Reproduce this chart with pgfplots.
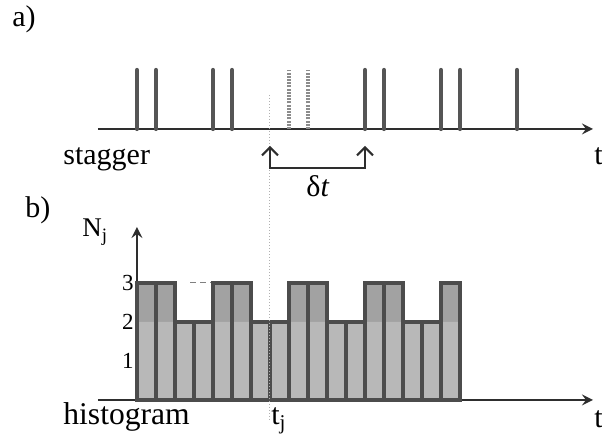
\documentclass[border=0pt]{standalone}
\usepackage{fontspec}
\setmainfont{Liberation Serif}
\usepackage{pgfplots}
\pgfplotsset{compat=1.18}
\usetikzlibrary{arrows.meta}

\definecolor{inkdark}{HTML}{2E2E2E}
\definecolor{spike}{HTML}{555555}
\definecolor{spikelight}{HTML}{8C8C8C}
\definecolor{barlow}{HTML}{B8B8B8}
\definecolor{barhigh}{HTML}{A2A2A2}
\definecolor{barline}{HTML}{4C4C4C}
\definecolor{guide}{HTML}{B0B0B0}

\pgfplotsset{
  timeaxis/.style={
    scale only axis, width=247.5pt,
    xmin=-2.05, xmax=24.0,
    xtick=\empty, ytick=\empty,
    clip=false,
    axis line style={inkdark, line width=1.4pt,
      -{Straight Barb[length=5pt,width=9pt,line width=1.1pt]}},
  },
}

\begin{document}
\begin{tikzpicture}[x=0.5pt,y=0.5pt]
\useasboundingbox (0,0) rectangle (602,442);
\coordinate (topO) at (98,313);
\coordinate (botO) at (98,42);

% a) pulse train
\begin{axis}[timeaxis, at={(topO)}, anchor=south west,
  height=29.5pt, ymin=0, ymax=1,
  axis x line=bottom, axis y line=none]
\addplot[ycomb, spike, line width=2.1pt, line cap=round, mark=none]
  coordinates {(0,1) (1,1) (4,1) (5,1) (12,1) (13,1) (16,1) (17,1) (20,1)};
\addplot[ycomb, spikelight, line width=2.1pt, dash pattern=on 1pt off 0.6pt, mark=none]
  coordinates {(8,1) (9,1)};
\end{axis}

% b) histogram of counts in the window delta t
\begin{axis}[timeaxis, at={(botO)}, anchor=south west,
  height=86.5pt, ymin=0, ymax=4.436,
  axis lines=middle,
  ytick={1,2,3}, major tick length=0pt,
  /pgf/number format/assume math mode=true,
  yticklabel style={font=\fontsize{11.5}{13}\selectfont, inner sep=1.5pt}]
\addplot[ybar interval, fill=barhigh, draw=none]
  coordinates {(0,3) (1,3) (2,2) (3,2) (4,3) (5,3) (6,2) (7,2) (8,3)
               (9,3) (10,2) (11,2) (12,3) (13,3) (14,2) (15,2) (16,3) (17,3)};
\addplot[ybar interval, fill=barlow, draw=none]
  coordinates {(0,2) (1,2) (2,2) (3,2) (4,2) (5,2) (6,2) (7,2) (8,2)
               (9,2) (10,2) (11,2) (12,2) (13,2) (14,2) (15,2) (16,2) (17,2)};
\addplot[ybar interval, fill=none, draw=barline, line width=1.7pt]
  coordinates {(0,3) (1,3) (2,2) (3,2) (4,3) (5,3) (6,2) (7,2) (8,3)
               (9,3) (10,2) (11,2) (12,3) (13,3) (14,2) (15,2) (16,3) (17,3)};
\addplot[gray, densely dashed, line width=0.5pt] coordinates {(2.8,3) (3.9,3)};
\end{axis}

% guide through t_j and the window bracket
\draw[guide, line width=0.5pt, densely dotted] (270,347) -- (270,20);
\draw[inkdark, line width=1.2pt,
  {Straight Barb[length=4pt,width=8pt,line width=1pt]}-{Straight Barb[length=4pt,width=8pt,line width=1pt]}]
  (270,296) -- (270,274) -- (365,274) -- (365,296);

% labels
\begin{scope}[every node/.style={font=\fontsize{15}{18}\selectfont, inner sep=0pt}]
\node[anchor=base west] at (12,415) {a)};
\node[anchor=base west] at (63,277) {stagger};
\node[anchor=base west] at (594,277) {t};
\node[anchor=base] at (318,245) {δ\textit{t}};
\node[anchor=base west] at (25,224) {b)};
\node[anchor=base west, font=\fontsize{13.5}{16}\selectfont] at (82,205) {N\textsubscript{j}};
\node[anchor=base west, font=\fontsize{15.8}{18}\selectfont] at (63,17) {histogram};
\node[anchor=base west] at (271,17) {t\textsubscript{j}};
\node[anchor=base west] at (594,14) {t};
\end{scope}
\end{tikzpicture}
\end{document}
